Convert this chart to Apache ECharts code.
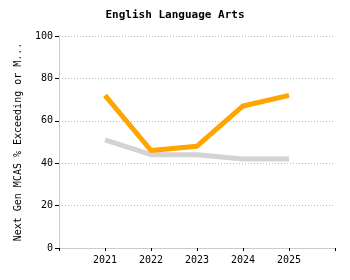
<!DOCTYPE html>
<html><head><meta charset="utf-8">
<script src="https://cdn.jsdelivr.net/npm/echarts@6/dist/echarts.min.js"></script>
<style>html,body{margin:0;padding:0;background:#fff}#c{width:350px;height:280px}</style>
</head><body><div id="c"></div>
<script>
var categories = ['', '2021', '2022', '2023', '2024', '2025', ''];
var schoolValues = [null, 72, 46, 48, 67, 72, null];
var stateValues = [null, 51, 44, 44, 42, 42, null];
var yTicks = [0, 20, 40, 60, 80, 100];
var titleText = 'English Language Arts';
var yName = 'Next Gen MCAS % Exceeding or Meeting Expectations';

var font = '"DejaVu Sans Mono", monospace';
var chart = echarts.init(document.getElementById('c'), null, {renderer: 'canvas'});
chart.setOption({
  animation: false,
  title: {text: titleText, left: 'center', top: 5, textStyle: {fontFamily: font, fontSize: 11, fontWeight: 'bold', color: '#000'}},
  grid: {left: 59, right: 15, top: 36, bottom: 32},
  xAxis: {
    type: 'category', data: categories, boundaryGap: false,
    axisLine: {lineStyle: {color: '#ccc'}},
    axisTick: {show: true, length: 3, lineStyle: {color: '#000'}},
    axisLabel: {fontFamily: font, fontSize: 10, color: '#000', margin: 7},
    splitLine: {show: false}
  },
  yAxis: {
    type: 'value', min: yTicks[0], max: yTicks[yTicks.length - 1], interval: 20,
    name: yName, nameLocation: 'middle', nameGap: 36, nameRotate: 90,
    nameTruncate: {maxWidth: 202, ellipsis: '...'},
    nameTextStyle: {fontFamily: font, fontSize: 10, color: '#000'},
    axisLine: {show: true, lineStyle: {color: '#ccc'}},
    axisTick: {show: true, length: 4, lineStyle: {color: '#000'}},
    axisLabel: {fontFamily: font, fontSize: 10, color: '#000', margin: 6},
    splitLine: {show: true, lineStyle: {color: '#bbb', type: [1, 2], width: 1}}
  },
  series: [
    {type: 'line', data: stateValues, showSymbol: false, symbol: 'none', z: 1,
     lineStyle: {color: '#d3d3d3', width: 5}},
    {type: 'line', data: schoolValues, showSymbol: false, symbol: 'none', z: 2,
     lineStyle: {color: '#ffa500', width: 5}}
  ]
});
</script></body></html>
